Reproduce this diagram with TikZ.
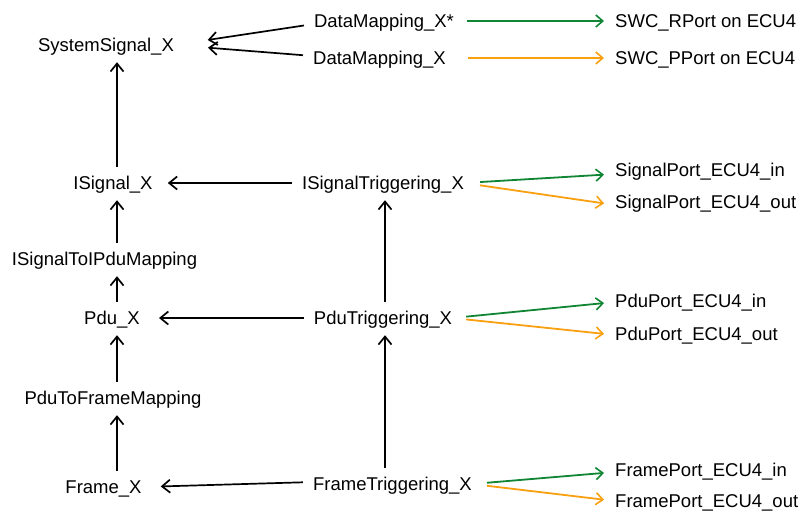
\documentclass[tikz,border=0pt]{standalone}
\usepackage{fontspec}
\setmainfont{Liberation Sans}
\usetikzlibrary{arrows.meta}
\definecolor{rxgreen}{RGB}{16,134,52}
\definecolor{txorange}{RGB}{248,160,16}
\tikzset{
  lbl/.style={inner sep=0pt, text height=13pt, text depth=0pt, font=\fontsize{18.5}{22}\selectfont},
  port/.style={lbl, anchor=west},
  arr/.style={line width=1.7pt, -{Straight Barb[length=8pt,width=13pt,line width=1.7pt]}},
  uparr/.style={arr, shorten <=9.5pt, shorten >=10.5pt},
  leftarr/.style={arr, shorten <=10pt, shorten >=19pt},
  carr/.style={line width=1.8pt, -{Straight Barb[length=7pt,width=12pt,line width=1.6pt]}}
}
\begin{document}
\begin{tikzpicture}[x=1pt,y=-1pt]
\useasboundingbox (0,0) rectangle (802,511);
% ---- columns of the vertical arrows ----
\coordinate (colA) at (117,0);
\coordinate (colB) at (385,0);
% ---- left column ----
\node[lbl] (sys)   at (106,45)    {SystemSignal\_X};
\node[lbl] (isig)  at (113,183)   {ISignal\_X};
\node[lbl] (map1)  at (104.5,259) {ISignalToIPduMapping};
\node[lbl] (pdu)   at (112,318)   {Pdu\_X};
\node[lbl] (map2)  at (113,398)   {PduToFrameMapping};
\node[lbl] (frame) at (103.5,487) {Frame\_X};
% ---- middle column ----
\node[lbl] (dm1)     at (384,21)    {DataMapping\_X*};
\node[lbl] (dm2)     at (379.5,58)  {DataMapping\_X};
\node[lbl] (isigtr)  at (383,183)   {ISignalTriggering\_X};
\node[lbl] (pdutr)   at (383,318)   {PduTriggering\_X};
\node[lbl] (frametr) at (392.5,484) {FrameTriggering\_X};
% ---- ports ----
\node[port] (swcr)   at (615,21)  {SWC\_RPort on ECU4};
\node[port] (swcp)   at (615,58)  {SWC\_PPort on ECU4};
\node[port] (sigin)  at (615,170) {SignalPort\_ECU4\_in};
\node[port] (sigout) at (615,202) {SignalPort\_ECU4\_out};
\node[port] (pduin)  at (615,301) {PduPort\_ECU4\_in};
\node[port] (pduout) at (615,334) {PduPort\_ECU4\_out};
\node[port] (frin)   at (615,470) {FramePort\_ECU4\_in};
\node[port] (frout)  at (615,501) {FramePort\_ECU4\_out};
% ---- vertical arrows ----
\draw[uparr] (isig.north -| colA)  -- (sys.south -| colA);
\draw[uparr] (map1.north -| colA)  -- (isig.south -| colA);
\draw[uparr] (pdu.north -| colA)   -- (map1.south -| colA);
\draw[uparr] (map2.north -| colA)  -- (pdu.south -| colA);
\draw[uparr] (frame.north -| colA) -- (map2.south -| colA);
\draw[uparr] (pdutr.north -| colB)   -- (isigtr.south -| colB);
\draw[uparr] (frametr.north -| colB) -- (pdutr.south -| colB);
% ---- horizontal arrows ----
\draw[arr, shorten <=10pt, shorten >=34pt] ([yshift=-3pt]dm1.west) -- (sys.east);
\draw[arr, shorten <=10pt, shorten >=34pt] ([yshift=2pt]dm2.west) -- (sys.east);
\draw[leftarr, shorten >=15pt] (isigtr) -- (isig);
\draw[leftarr] (pdutr) -- (pdu);
\draw[leftarr] ([yshift=2pt]frametr.west) -- (frame.east);
% ---- coloured port arrows ----
\draw[carr, rxgreen, shorten <=13pt, shorten >=11pt] (dm1.east) -- (swcr.west);
\draw[carr, txorange, shorten <=22pt, shorten >=11pt] (dm2.east) -- (swcp.west);
\draw[carr, rxgreen, shorten <=16pt, shorten >=11pt] (isigtr.east) -- ([yshift=-4pt]sigin.west);
\draw[carr, txorange, shorten <=16pt, shorten >=11pt] (isigtr.east) -- ([yshift=-3pt]sigout.west);
\draw[carr, rxgreen, shorten <=14pt, shorten >=11pt] (pdutr.east) -- ([yshift=-1pt]pduin.west);
\draw[carr, txorange, shorten <=14pt, shorten >=11pt] (pdutr.east) -- ([yshift=-1pt]pduout.west);
\draw[carr, rxgreen, shorten <=15pt, shorten >=11pt] (frametr.east) -- ([yshift=-2pt]frin.west);
\draw[carr, txorange, shorten <=15pt, shorten >=11pt] (frametr.east) -- (frout.west);
\end{tikzpicture}
\end{document}
